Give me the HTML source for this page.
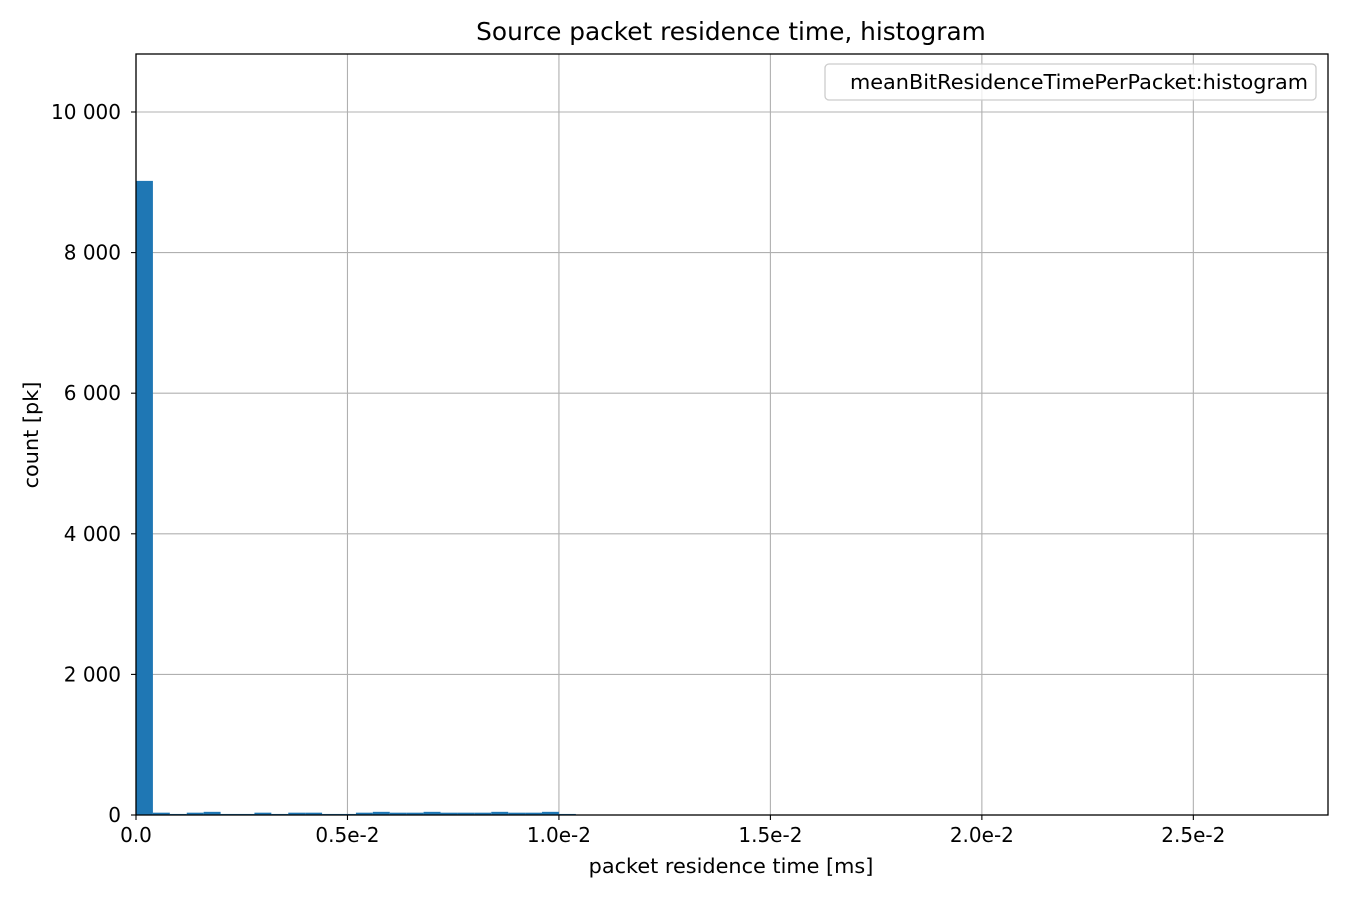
<!DOCTYPE html>
<html><head><meta charset="utf-8"><style>
body{margin:0;background:#fff}
svg text{font-family:"DejaVu Sans","Liberation Sans",sans-serif;fill:#000}
</style></head><body>
<svg id="chart" width="1350" height="900" xmlns="http://www.w3.org/2000/svg">
<rect width="1350" height="900" fill="#fff"/>
<g id="grid"></g>
<g id="bars"></g>
<rect x="136" y="54" width="1192" height="761" fill="none" stroke="#000" stroke-width="1.3"/>
<g id="ticks"></g>
<text x="731" y="40" font-size="24.8" text-anchor="middle">Source packet residence time, histogram</text>
<text x="731" y="873" font-size="20.8" text-anchor="middle">packet residence time [ms]</text>
<text transform="translate(38,435) rotate(-90)" font-size="20.8" text-anchor="middle">count [pk]</text>
<g>
<rect x="825" y="64" width="491" height="36" rx="4" fill="#fff" fill-opacity="0.8" stroke="#ccc" stroke-width="1.3"/>
<text x="850" y="89" font-size="20.8">meanBitResidenceTimePerPacket:histogram</text>
</g>
</svg>
<script>
const binWidth = 0.0004;
const counts = [9020,33,15,33,45,15,15,33,15,33,33,15,15,33,45,33,33,45,33,33,33,45,33,33,45,15];
const xTicks = [0, 0.005, 0.01, 0.015, 0.02, 0.025];
const xTickLabels = ["0.0","0.5e-2","1.0e-2","1.5e-2","2.0e-2","2.5e-2"];
const yTicks = [0, 2000, 4000, 6000, 8000, 10000];
const yTickLabels = ["0","2 000","4 000","6 000","8 000","10 000"];

const X0=136, X1=1328, Y0=815, Y1=54;
const xMax = 0.028184, yMax = 10825;
const xs = v => X0 + v/xMax*(X1-X0);
const ys = v => Y0 - v/yMax*(Y0-Y1);
const NS="http://www.w3.org/2000/svg";
function mk(tag, attrs, parent){const e=document.createElementNS(NS,tag);for(const k in attrs)e.setAttribute(k,attrs[k]);parent.appendChild(e);return e;}
const grid=document.getElementById('grid'), bars=document.getElementById('bars'), ticks=document.getElementById('ticks');
xTicks.forEach((t,i)=>{
  const x=xs(t);
  const g=mk('line',{x1:x,x2:x,y1:Y1,y2:Y0,stroke:'#b0b0b0','stroke-width':1.1},grid);
  
  
  const tk=mk('line',{x1:x,x2:x,y1:Y0,y2:Y0+5,stroke:'#000','stroke-width':1.1},ticks);
  
  
  const tx=mk('text',{x:x,y:Y0+27,'font-size':20,'text-anchor':'middle'},ticks);
  tx.textContent=xTickLabels[i];
  
  
});
yTicks.forEach((t,i)=>{
  const y=ys(t);
  const g=mk('line',{x1:X0,x2:X1,y1:y,y2:y,stroke:'#b0b0b0','stroke-width':1.1},grid);
  
  
  const tk=mk('line',{x1:X0-5,x2:X0,y1:y,y2:y,stroke:'#000','stroke-width':1.1},ticks);
  
  
  const tx=mk('text',{x:X0-15,y:y+7,'font-size':20,'text-anchor':'end'},ticks);
  tx.textContent=yTickLabels[i];
  
  
});
counts.forEach((c,i)=>{
  const xa=xs(i*binWidth), xb=xs((i+1)*binWidth), y=ys(c);
  const r=mk('rect',{x:xa,y:y,width:xb-xa,height:Y0-y,fill:'#1f77b4'},bars);
  
  
});
</script>
</body></html>
